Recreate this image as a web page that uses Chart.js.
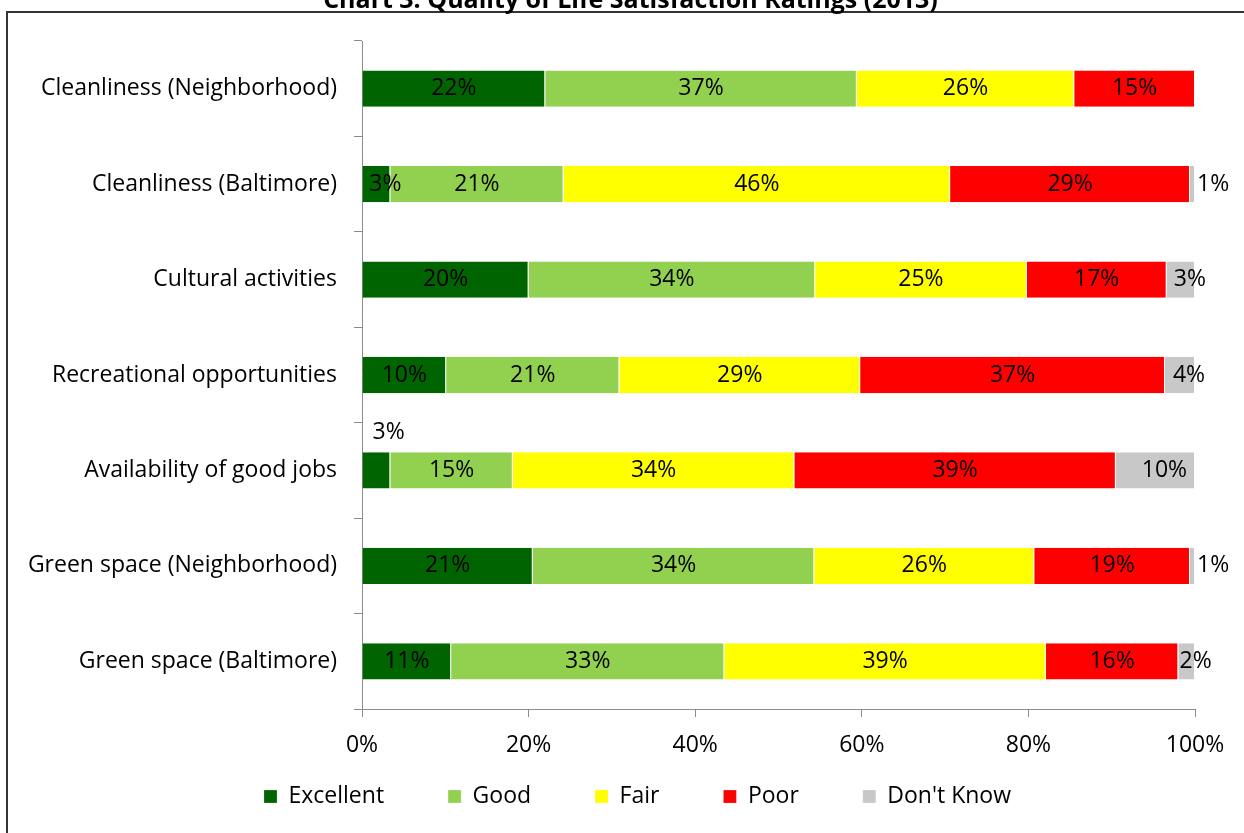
<!DOCTYPE html>
<html>
<head>
<meta charset="utf-8">
<script src="https://cdn.jsdelivr.net/npm/chart.js@4.4.1/dist/chart.umd.min.js"></script>
<style>
html, body { margin: 0; padding: 0; background: #fff; overflow: hidden; }
#caja { position: absolute; left: 0; top: -22px; width: 1244px; height: 855px; }
</style>
</head>
<body>
<div id="caja"><canvas id="misBarras"></canvas></div>
<script>
const categorias = ['Cleanliness (Neighborhood)', 'Cleanliness (Baltimore)', 'Cultural activities',
  'Recreational opportunities', 'Availability of good jobs', 'Green space (Neighborhood)', 'Green space (Baltimore)'];
const excelente = [22.0, 3.4, 20.0, 10.1, 3.4, 20.5, 10.7];
const bueno     = [37.4, 20.8, 34.4, 20.8, 14.7, 33.8, 32.8];
const regular   = [26.1, 46.4, 25.4, 28.9, 33.8, 26.4, 38.6];
const malo      = [14.5, 28.8, 16.8, 36.6, 38.6, 18.7, 15.9];
const noSabe    = [null, 0.6, 3.4, 3.6, 9.5, 0.6, 2.0];

// etiqueta que va encima de la barra (serie, categoria)
const etiquetaArriba = [0, 4];
const fuente = '"Open Sans"';
const tam = 23;

const etiquetas = {
  id: 'etiquetas',
  afterDatasetsDraw(chart) {
    const ctx = chart.ctx;
    ctx.save();
    ctx.font = tam + 'px ' + fuente;
    ctx.fillStyle = '#000';
    ctx.textBaseline = 'middle';
    chart.data.datasets.forEach((ds, i) => {
      chart.getDatasetMeta(i).data.forEach((bar, j) => {
        const v = ds.data[j];
        if (v == null) return;
        const txt = Math.round(v) + '%';
        const ancho = Math.abs(bar.x - bar.base);
        const tw = ctx.measureText(txt).width;
        let x = (bar.x + bar.base) / 2, y = bar.y;
        ctx.textAlign = 'center';
        if (i === etiquetaArriba[0] && j === etiquetaArriba[1]) {
          ctx.textAlign = 'left';
          x = bar.base + 10;
          y = bar.y - bar.height / 2 - 20;
        } else if (ancho < 8) {
          ctx.textAlign = 'left';
          x = bar.x + 2;
        } else if (i === 4 || tw > ancho) {
          x += 9;
        }
        ctx.fillText(txt, x, y);
      });
    });
    ctx.restore();
  }
};

// marco del grafico
const marco = {
  id: 'marco',
  beforeDraw(chart) {
    const ctx = chart.ctx;
    ctx.save();
    ctx.strokeStyle = '#333';
    ctx.lineWidth = 2;
    ctx.strokeRect(7, 34, 3000, 3000);
    ctx.restore();
  }
};

// mover leyenda y titulo como en Excel
const ajuste = {
  id: 'ajuste',
  afterLayout(chart) {
    const ley = chart.legend;
    ley.left += 40; ley.right += 40;
    ley.top = chart.chartArea.bottom + 12;
    ley.height = 100;
    ley.bottom = ley.top + ley.height;
    const t = chart.titleBlock;
    t.left += 33; t.right += 33;
  }
};

function serie(nombre, datos, color) {
  return {
    label: nombre,
    data: datos,
    backgroundColor: color,
    borderColor: 'rgba(255,255,255,0.85)',
    borderWidth: { left: 0, right: 1, top: 0, bottom: 0 },
    borderSkipped: false,
    barPercentage: 0.38,
    categoryPercentage: 1
  };
}

Chart.defaults.font.family = fuente;
Chart.defaults.font.size = tam;
Chart.defaults.color = '#000';

new Chart(document.getElementById('misBarras'), {
  type: 'bar',
  data: {
    labels: categorias,
    datasets: [
      serie('Excellent', excelente, '#006400'),
      serie('Good', bueno, '#92D050'),
      serie('Fair', regular, '#FFFF00'),
      serie('Poor', malo, '#FF0000'),
      serie("Don't Know", noSabe, '#C8C8C8')
    ]
  },
  options: {
    indexAxis: 'y',
    responsive: true,
    maintainAspectRatio: false,
    animation: false,
    layout: { padding: { left: 0, right: 49, top: 0, bottom: 34 } },
    plugins: {
      title: {
        display: true,
        text: 'Chart 3: Quality of Life Satisfaction Ratings (2013)',
        font: { size: 25, weight: 'bold' },
        color: '#000',
        padding: { top: 8, bottom: 25 }
      },
      legend: {
        position: 'bottom',
        maxHeight: 40,
        labels: { boxWidth: 13, boxHeight: 13, padding: 64, font: { size: tam } }
      },
      tooltip: { enabled: false }
    },
    scales: {
      x: {
        stacked: true,
        min: 0,
        max: 100,
        afterFit: s => { s.height = 50; },
        ticks: { stepSize: 20, padding: 15, callback: v => v + '%' },
        grid: { drawOnChartArea: false, tickLength: 8, color: '#8c8c8c' },
        border: { color: '#8c8c8c', width: 1 }
      },
      y: {
        stacked: true,
        afterFit: s => { s.width = 362; },
        ticks: { padding: 17 },
        grid: { drawOnChartArea: false, tickLength: 8, color: '#8c8c8c', offset: true },
        border: { color: '#8c8c8c', width: 1 }
      }
    }
  },
  plugins: [marco, ajuste, etiquetas]
});
</script>
</body>
</html>
